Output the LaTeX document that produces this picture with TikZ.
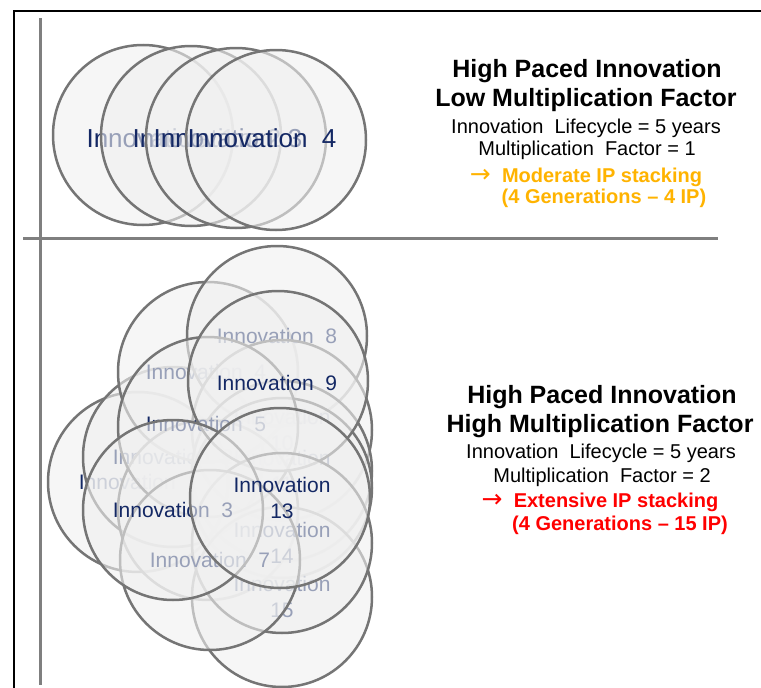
\documentclass[tikz,border=0pt]{standalone}
\usepackage{fontspec}
\setmainfont{Liberation Sans}
\newfontfamily\arrowfont{DejaVu Sans}
\definecolor{ringline}{HTML}{757575}
\definecolor{ringfill}{HTML}{F0F0F0}
\definecolor{innblue}{HTML}{142864}
\definecolor{axisgray}{HTML}{7F7F7F}
\definecolor{ipamber}{HTML}{FFB300}
\definecolor{ipred}{HTML}{FF0000}
\begin{document}
\begin{tikzpicture}[x=1pt,y=-1pt,
  ring/.style={circle,draw=ringline,line width=2.5pt,fill=ringfill,fill opacity=0.6,minimum size=180pt,inner sep=0pt},
  bigtag/.style={text=innblue,font=\fontsize{26}{30}\selectfont,inner sep=0pt},
  tag/.style={text=innblue,font=\fontsize{21}{26}\selectfont,align=center,inner sep=0pt},
  headline/.style={anchor=base,font=\bfseries\fontsize{25}{30}\selectfont,inner sep=0pt},
  infoline/.style={anchor=base,font=\fontsize{20}{24}\selectfont,inner sep=0pt},
  resultline/.style={anchor=base,font=\bfseries\fontsize{20}{24}\selectfont,inner sep=0pt}]
\useasboundingbox (0,0) rectangle (761,688);
%frame and axes
\draw[line width=2pt] (761,11) -| (14,688);
\draw[axisgray,line width=3pt] (40,18) -- (40,685);
\draw[axisgray,line width=3pt] (23,238) -- (718,238);
%low multiplication: one innovation per generation
\node[ring] (a1) at (143,135) {};
\node[bigtag] (a1t) at (161,138) {Innovation\ \ 1};
\node[ring] (a2) at (191,136) {};
\node[bigtag] (a2t) at (207,138) {Innovation\ \ 2};
\node[ring] (a3) at (236,138) {};
\node[bigtag] (a3t) at (228,138) {Innovation\ \ 3};
\node[ring] (a4) at (276,140) {};
\node[bigtag] (a4t) at (262,138) {Innovation\ \ 4};
%high multiplication: 1, 2, 4, 8 innovations per generation
\node[ring] (g1) at (138,482) {};
\node[tag] (g1t) at (139,482) {Innovation\ \ 1};
\node[ring] (g2) at (173,457) {};
\node[tag] (g2t) at (173,457) {Innovation\ \ 2};
\node[ring] (g4) at (208,372) {};
\node[tag] (g4t) at (206,372) {Innovation\ \ 4};
\node[ring] (g8) at (277,336) {};
\node[tag] (g8t) at (277,336) {Innovation\ \ 8};
\node[ring] (g10) at (282,430) {};
\node[tag] (g10t) at (282,430) {Innovation\\10};
\node[ring] (g11) at (282,471) {};
\node[tag] (g11t) at (282,471) {Innovation\\11};
\node[ring] (g12) at (282,488) {};
\node[ring] (g6) at (208,510) {};
\node[ring] (g5) at (208,427) {};
\node[tag] (g5t) at (206,424) {Innovation\ \ 5};
\node[ring] (g9) at (278,381) {};
\node[tag] (g9t) at (277,383) {Innovation\ \ 9};
\node[ring] (g15) at (282,597) {};
\node[tag] (g15t) at (282,597) {Innovation\\15};
\node[ring] (g14) at (282,543) {};
\node[tag] (g14t) at (282,543) {Innovation\\14};
\node[ring] (g7) at (210,560) {};
\node[tag] (g7t) at (210,560) {Innovation\ \ 7};
\node[ring] (g3) at (173,510) {};
\node[tag] (g3t) at (173,510) {Innovation\ \ 3};
\node[ring] (g13) at (280,498) {};
\node[tag] (g13t) at (282,498) {Innovation\\13};
%texts on the right
\node[headline] (lowhead1) at (587,77) {High Paced Innovation};
\node[headline] (lowhead2) at (586,106) {Low Multiplication Factor};
\node[infoline] (lowlife) at (586,133) {Innovation\ \ Lifecycle = 5 years};
\node[infoline] (lowfactor) at (587,155) {Multiplication\ \ Factor = 1};
\node[resultline,text=ipamber] (lowresult) at (586,182) {{\arrowfont\mdseries\fontsize{25}{24}\selectfont →}\ \ Moderate IP stacking};
\node[resultline,text=ipamber] (lowcount) at (604,203) {(4 Generations – 4 IP)};
\node[headline] (highhead1) at (602,403) {High Paced Innovation};
\node[headline] (highhead2) at (600,432) {High Multiplication Factor};
\node[infoline] (highlife) at (601,458) {Innovation\ \ Lifecycle = 5 years};
\node[infoline] (highfactor) at (602,482) {Multiplication\ \ Factor = 2};
\node[resultline,text=ipred] (highresult) at (600,507) {{\arrowfont\mdseries\fontsize{25}{24}\selectfont →}\ \ Extensive IP stacking};
\node[resultline,text=ipred] (highcount) at (620,530) {(4 Generations – 15 IP)};
\end{tikzpicture}
\end{document}
